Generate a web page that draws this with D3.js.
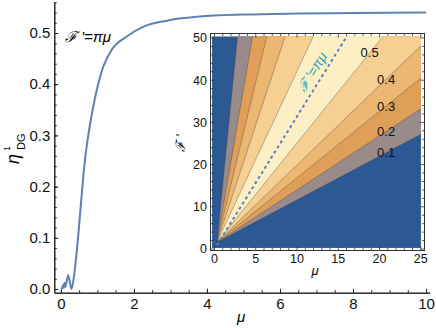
<!DOCTYPE html>
<html>
<head>
<meta charset="utf-8">
<script src="https://cdn.jsdelivr.net/npm/d3@7"></script>
<style>
  body { margin: 0; background: #fff; }
  text { font-family: "Liberation Sans", Arial, sans-serif; }
</style>
</head>
<body>
<div id="chart"></div>
<script>
// main curve: eta_DG^1 along F' = pi*mu
const muValues  = [0, 0.03, 0.06, 0.08, 0.1, 0.12, 0.16, 0.2, 0.25, 0.29, 0.35, 0.43, 0.47, 0.53, 0.59, 0.66, 0.75, 0.87, 1.02, 1.16, 1.39, 1.8, 2.25, 2.9, 3.8, 5, 6.5, 8, 10];
const etaValues = [0, 0.001, 0.008, 0.002, 0.012, 0.004, 0.015, 0.027, 0.012, 0.0, 0.02, 0.07, 0.1, 0.15, 0.2, 0.252, 0.3, 0.35, 0.40, 0.434, 0.467, 0.493, 0.512, 0.524, 0.532, 0.536, 0.538, 0.539, 0.540];
const xTicks = [0, 2, 4, 6, 8, 10];
const yTicks = [0, 0.1, 0.2, 0.3, 0.4, 0.5];

// inset contour plot (bands between contour lines)
const contourLevels = [0.1, 0.2, 0.3, 0.4, 0.5];
const upperRatios = [19.6, 11.3, 8.08, 5.91, 4.18];   // F'/mu of steep side of each contour
const lowerRatios = [1.035, 1.28, 1.575, 1.885, 2.425]; // F'/mu of shallow side
const bandColors = ["#2c5894", "#9a8b8b", "#df9f58", "#ecb673", "#f6cf93", "#fdefc4"];
const insetXTicks = [0, 5, 10, 15, 20, 25];
const insetYTicks = [0, 10, 20, 30, 40, 50];
const apexMu = 0.3, apexF = 1.6;

const svg = d3.select("#chart").append("svg")
  .attr("width", 436)
  .attr("height", 328);

// ---------- main plot ----------
const x = d3.scaleLinear().domain([-0.18, 10.1]).range([54.3, 429.7]);
const y = d3.scaleLinear().domain([-0.0072, 0.5605]).range([292.7, 2]);

const yAxis = d3.axisLeft(y).tickValues(yTicks).tickFormat(d3.format(".1f"))
  .tickSizeInner(-4).tickSizeOuter(0).tickPadding(4);
const yMinor = d3.axisLeft(y).tickValues(d3.range(0, 0.561, 0.02)).tickFormat("")
  .tickSizeInner(-2.5).tickSizeOuter(0);
const xAxis = d3.axisBottom(x).tickValues(xTicks).tickFormat(d3.format("d"))
  .tickSizeInner(-4).tickSizeOuter(0).tickPadding(6);
const xMinor = d3.axisBottom(x).tickValues(d3.range(0, 10.01, 0.5)).tickFormat("")
  .tickSizeInner(-2.5).tickSizeOuter(0);

svg.append("g").attr("transform", "translate(54.3,0)").call(yMinor);
const gy = svg.append("g").attr("transform", "translate(54.3,0)").call(yAxis);
svg.append("g").attr("transform", "translate(0,292.7)").call(xMinor);
const gx = svg.append("g").attr("transform", "translate(0,292.7)").call(xAxis);
[gy, gx].forEach(g => g.selectAll("text").attr("font-size", 15).attr("fill", "#111")
  .attr("font-family", "'Liberation Sans', Arial, sans-serif"));
svg.selectAll(".domain, .tick line").attr("stroke", "#222");

const line = d3.line()
  .x((d, i) => x(muValues[i]))
  .y(d => y(d))
  .curve(d3.curveMonotoneX);

svg.append("path")
  .datum(etaValues)
  .attr("fill", "none")
  .attr("stroke", "#5e81b5")
  .attr("stroke-width", 2)
  .attr("d", line);

svg.append("text")
  .attr("x", 65).attr("y", 42)
  .attr("font-size", 15)
  .attr("font-family", "'DejaVu Sans', sans-serif")
  .attr("font-style", "italic")
  .text("ℱ '=πμ");

svg.append("text")
  .attr("x", 241).attr("y", 322)
  .attr("text-anchor", "middle")
  .attr("font-size", 15).attr("font-style", "italic")
  .text("μ");

// y label  eta^1_DG, rotated
const lab = svg.append("g").attr("transform", "translate(17,145) rotate(-90)");
lab.append("text").attr("x", -19).attr("y", 2)
  .attr("font-size", 18).attr("font-style", "italic")
  .attr("font-family", "'Liberation Serif', serif").text("η");
lab.append("text").attr("x", -6).attr("y", -7)
  .attr("font-size", 9).attr("font-family", "'Liberation Serif', serif").text("1");
lab.append("text").attr("x", -5).attr("y", 8)
  .attr("font-size", 11).attr("font-family", "'Liberation Serif', serif").text("DG");

// ---------- inset ----------
const ix = d3.scaleLinear().domain([0, 25]).range([214.5, 420.8]);
const iy = d3.scaleLinear().domain([0, 50]).range([249, 38]);
const fx0 = ix(-0.3), fx1 = ix(25.02), fy0 = iy(50.4), fy1 = iy(0.25);

svg.append("rect").attr("x", 184).attr("y", 28).attr("width", 252).attr("height", 254).attr("fill", "#fff");

const defs = svg.append("defs");
defs.append("clipPath").attr("id", "insetClip")
  .append("rect").attr("x", fx0).attr("y", fy0).attr("width", fx1 - fx0).attr("height", fy1 - fy0);

const plot = svg.append("g").attr("clip-path", "url(#insetClip)");
plot.append("rect").attr("x", fx0).attr("y", fy0).attr("width", fx1 - fx0).attr("height", fy1 - fy0)
  .attr("fill", bandColors[0]);

const T = 1000;
contourLevels.forEach((lvl, i) => {
  const pts = [
    [apexMu, apexF],
    [apexMu + T, apexF + lowerRatios[i] * T],
    [apexMu + T, apexF + upperRatios[i] * T]
  ];
  plot.append("path")
    .attr("d", "M" + pts.map(p => [ix(p[0]), iy(p[1])].join(",")).join("L") + "Z")
    .attr("fill", bandColors[i + 1]);
});
contourLevels.forEach((lvl, i) => {
  [lowerRatios[i], upperRatios[i]].forEach(r => {
    plot.append("line")
      .attr("x1", ix(apexMu)).attr("y1", iy(apexF))
      .attr("x2", ix(apexMu + T)).attr("y2", iy(apexF + r * T))
      .attr("stroke", "#3a3a3a").attr("stroke-opacity", 0.5).attr("stroke-width", 0.7);
  });
});

// F' = pi mu
plot.append("line")
  .attr("x1", ix(0.3)).attr("y1", iy(0.3 * Math.PI))
  .attr("x2", ix(51 / Math.PI)).attr("y2", iy(51))
  .attr("stroke", "#5a7fc8").attr("stroke-width", 2).attr("stroke-dasharray", "3,3");

const ang = Math.atan2(iy(0) - iy(Math.PI), ix(1) - ix(0)) * 180 / Math.PI;
svg.append("text")
  .attr("transform", `translate(312,72) rotate(${-ang})`)
  .attr("text-anchor", "middle").attr("dy", "0.35em")
  .attr("font-size", 14).attr("font-style", "italic")
  .attr("font-family", "'DejaVu Sans', sans-serif")
  .attr("fill", "#22a7b5")
  .text("ℱ '=πμ");

// contour labels sitting on the shallow-side lines
const labelMu = [20.8, 20.8, 20.8, 20.8, 18.8];
contourLevels.forEach((lvl, i) => {
  const m = labelMu[i];
  svg.append("text")
    .attr("x", ix(m)).attr("y", iy(apexF + lowerRatios[i] * (m - apexMu)))
    .attr("text-anchor", "middle").attr("dy", "0.35em")
    .attr("font-size", 13).attr("fill", "#111")
    .text(lvl.toFixed(1));
});

// frame with inward ticks
const frame = { x0: 210.5, x1: 424.5, y0: 33.5, y1: 250.5 };
svg.append("rect").attr("x", frame.x0).attr("y", frame.y0)
  .attr("width", frame.x1 - frame.x0).attr("height", frame.y1 - frame.y0)
  .attr("fill", "none").attr("stroke", "#333").attr("stroke-width", 1);

const tk = svg.append("g").attr("stroke", "#333").attr("stroke-width", 0.8);
d3.range(0, 25.01, 1).forEach(v => {
  const len = insetXTicks.includes(v) ? 4 : 2.5;
  tk.append("line").attr("x1", ix(v)).attr("x2", ix(v)).attr("y1", frame.y1).attr("y2", frame.y1 - len);
  tk.append("line").attr("x1", ix(v)).attr("x2", ix(v)).attr("y1", frame.y0).attr("y2", frame.y0 + len);
});
d3.range(0, 50.01, 2).forEach(v => {
  const len = insetYTicks.includes(v) ? 4 : 2.5;
  tk.append("line").attr("y1", iy(v)).attr("y2", iy(v)).attr("x1", frame.x0).attr("x2", frame.x0 + len);
  tk.append("line").attr("y1", iy(v)).attr("y2", iy(v)).attr("x1", frame.x1).attr("x2", frame.x1 - len);
});

svg.append("g").selectAll("text").data(insetXTicks).join("text")
  .attr("x", d => ix(d)).attr("y", 263)
  .attr("text-anchor", "middle").attr("font-size", 12.5).attr("fill", "#111")
  .text(d => d);
svg.append("g").selectAll("text").data(insetYTicks).join("text")
  .attr("x", 207).attr("y", d => iy(d)).attr("dy", "0.35em")
  .attr("text-anchor", "end").attr("font-size", 12.5).attr("fill", "#111")
  .text(d => d);

svg.append("text")
  .attr("x", 315).attr("y", 275)
  .attr("text-anchor", "middle").attr("font-size", 13).attr("font-style", "italic")
  .text("μ");
svg.append("text")
  .attr("transform", "translate(185,143) rotate(-90)")
  .attr("text-anchor", "middle")
  .attr("font-size", 13).attr("font-style", "italic")
  .attr("font-family", "'DejaVu Sans', sans-serif")
  .text("ℱ '");
</script>
</body>
</html>
